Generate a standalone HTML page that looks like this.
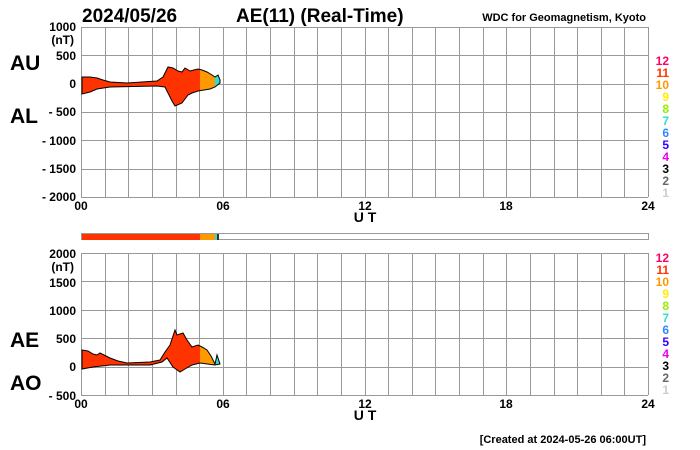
<!DOCTYPE html>
<html><head><meta charset="utf-8"><style>
html,body{margin:0;padding:0;background:#fff;}
svg{display:block;font-family:"Liberation Sans",sans-serif;}
</style></head><body>
<svg id="s" width="700" height="450" viewBox="0 0 700 450" xmlns="http://www.w3.org/2000/svg">
<rect width="700" height="450" fill="#fff"/>
<g id="grid" stroke="#999" stroke-width="1" fill="none"></g>
<text x="82" y="22" font-size="19" font-weight="bold">2024/05/26</text>
<text x="236" y="22" font-size="19" font-weight="bold">AE(11) (Real-Time)</text>
<text x="646" y="21" font-size="11" font-weight="bold" text-anchor="end">WDC for Geomagnetism, Kyoto</text>
<g font-size="12" font-weight="bold" text-anchor="end">
<text x="76" y="31">1000</text><text x="74" y="44">(nT)</text>
<text x="76" y="60">500</text><text x="76" y="88">0</text>
<text x="76" y="116">- 500</text><text x="76" y="145">- 1000</text>
<text x="76" y="173">- 1500</text><text x="76" y="201">- 2000</text>
<text x="76" y="258">2000</text><text x="74" y="271">(nT)</text>
<text x="76" y="287">1500</text><text x="76" y="315">1000</text>
<text x="76" y="343">500</text><text x="76" y="371">0</text>
<text x="76" y="400">- 500</text>
</g>
<g font-size="21" font-weight="bold">
<text x="10" y="70">AU</text><text x="10" y="123">AL</text>
<text x="10" y="347">AE</text><text x="10" y="390">AO</text>
</g>
<g font-size="12" font-weight="bold" text-anchor="middle">
<text x="81" y="210">00</text><text x="223" y="210">06</text><text x="365" y="210">12</text><text x="506" y="210">18</text><text x="648" y="210">24</text>
<text x="81" y="408">00</text><text x="223" y="408">06</text><text x="365" y="408">12</text><text x="506" y="408">18</text><text x="648" y="408">24</text>
<text x="365" y="222" font-size="14">U T</text><text x="365" y="420" font-size="14">U T</text>
</g>
<text x="646" y="443" font-size="11" font-weight="bold" text-anchor="end">[Created at 2024-05-26 06:00UT]</text>
<g id="leg" font-size="12" font-weight="bold" text-anchor="end"></g>
<rect x="81.5" y="233.5" width="567" height="6" fill="none" stroke="#999"/>
<rect x="82" y="234" width="118" height="6" fill="#ff3300"/>
<rect x="200" y="234" width="15" height="6" fill="#ff9900"/>
<rect x="215" y="234" width="2" height="6" fill="#33ddcc"/>
<rect x="217" y="234" width="2" height="6" fill="#333"/>
<clipPath id="c1"><rect x="0" y="0" width="200" height="450"/></clipPath>
<clipPath id="c2"><rect x="200" y="0" width="15" height="450"/></clipPath>
<clipPath id="c3"><rect x="215" y="0" width="10" height="450"/></clipPath>
<defs>
<path id="top" d="M82,77 L90,77 97,78 103,80 110,82 127,83 157,81 163,77 168,67 173,68 178,71 182,72 185,68 190,71 198,69 202,70 207,72 212,75 215,77 218,75 220,80 220,83 L215,87 210,89 198,91 192,93 188,95 185,99 182,103 175,106 172,101 170,97 167,91 165,87 157,86 110,87 97,89 90,92 82,94 Z"/>
<path id="bot" d="M82,350 L88,351 93,354 97,355 100,353 104,355 110,358 118,361 127,363 150,362 160,360 165,352 170,345 175,330 177,335 183,333 187,340 192,347 198,345 202,347 207,350 211,356 215,364 217,355 220,364 L215,365 200,363 192,365 185,369 180,372 173,367 167,358 162,362 150,365 110,365 93,367 82,369 Z"/>
</defs>
<use href="#top" fill="#ff3300" clip-path="url(#c1)"/>
<use href="#top" fill="#ff9900" clip-path="url(#c2)"/>
<use href="#top" fill="#33ddcc" clip-path="url(#c3)"/>
<use href="#top" fill="none" stroke="#000" stroke-width="1"/>
<use href="#bot" fill="#ff3300" clip-path="url(#c1)"/>
<use href="#bot" fill="#ff9900" clip-path="url(#c2)"/>
<use href="#bot" fill="#33ddcc" clip-path="url(#c3)"/>
<use href="#bot" fill="none" stroke="#000" stroke-width="1"/>
</svg>
<script>
var g=document.getElementById('grid'),ns='http://www.w3.org/2000/svg';
function L(x1,y1,x2,y2){var l=document.createElementNS(ns,'line');l.setAttribute('x1',x1);l.setAttribute('y1',y1);l.setAttribute('x2',x2);l.setAttribute('y2',y2);g.appendChild(l);}
[[27,197,6],[253,395,5]].forEach(function(p){
 var t=p[0],b=p[1],n=p[2],h=(b-t)/n;
 for(var i=0;i<=n;i++){var y=Math.round(t+i*h)+0.5;L(81,y,648,y);}
 for(var j=0;j<=24;j++){var x=Math.round(81+j*567/24)+0.5;L(x,t,x,b);}
});
var cols=['#ff0066','#ff3300','#ff9900','#ffee00','#99ee00','#33ddcc','#3388ff','#3300ff','#ee00ee','#000','#666','#ccc'];
var lg=document.getElementById('leg');
[65,262].forEach(function(y0){for(var k=0;k<12;k++){var t=document.createElementNS(ns,'text');t.setAttribute('x',669);t.setAttribute('y',y0+k*12);t.setAttribute('fill',cols[k]);t.textContent=12-k;lg.appendChild(t);}});
</script>
</body></html>
